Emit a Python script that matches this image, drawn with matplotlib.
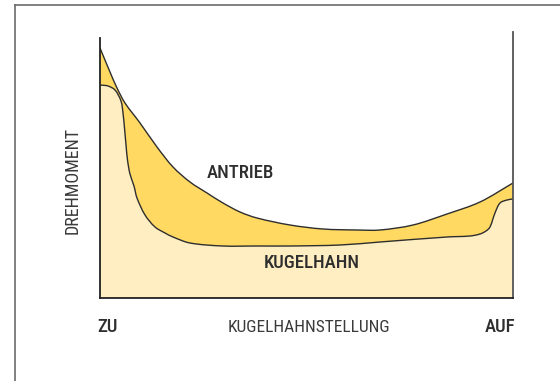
import matplotlib
matplotlib.use("Agg")
import matplotlib.pyplot as plt
from matplotlib.lines import Line2D
from matplotlib.path import Path
from matplotlib.patches import PathPatch

# Valve position (0 = ZU, 100 = AUF) and torque (arbitrary units)
antrieb_x = [0, 2.42, 4.12, 6.05, 9.69, 13.80, 17.68, 21.79, 25.91, 29.78,
             33.90, 38.01, 46.00, 54.00, 62.23, 67.80, 75.79, 84.02, 92.01, 100]
antrieb_y = [250, 226, 210, 195, 175, 151, 131, 116, 105, 95,
             86, 80, 73, 69, 68, 68, 73, 84, 96, 115]

kugel_x = [0, 1.94, 3.63, 5.08, 5.57, 5.93, 6.30, 6.66, 7.26, 8.23, 8.96,
           10.90, 13.32, 15.74, 17.68, 21.79, 29.78, 38.01, 46.00, 58.11,
           67.80, 84.02, 89.59, 92.01, 93.46, 94.43, 95.64, 96.85, 98.55, 100]
kugel_y = [213, 212, 208, 197, 185, 170, 153, 138, 124, 112, 100,
           83, 71, 65, 61, 55, 52, 52, 52, 53,
           56, 61, 62, 64, 67, 71, 85, 95, 98, 99]

labels_x = ["ZU", "KUGELHAHNSTELLUNG", "AUF"]
label_y = "DREHMOMENT"
curve_labels = ["ANTRIEB", "KUGELHAHN"]

FONT = ["Roboto Condensed", "DejaVu Sans"]
DARK = "#FFD962"
LIGHT = "#FEEEC2"
INK = "#2e2e2e"

W, H = 560, 381
x0, x1, yb, yt = 100, 513, 298, 32
SX = (x1 - x0) / 100.0  # pixels per x unit (y unit = 1 pixel)


def smooth_path(xs, ys, close=False):
    """Smooth cubic Bezier path through the given points."""
    pts = list(zip(xs, ys))
    n = len(pts)

    def dist(a, b):
        return (((b[0] - a[0]) * SX) ** 2 + (b[1] - a[1]) ** 2) ** 0.5

    d = [dist(pts[i], pts[i + 1]) for i in range(n - 1)]
    tang = []
    for i in range(n):
        a = pts[max(i - 1, 0)]
        b = pts[min(i + 1, n - 1)]
        tang.append((b[0] - a[0], b[1] - a[1]))
    verts = [pts[0]]
    codes = [Path.MOVETO]
    for i in range(n - 1):
        dl = d[i - 1] if i > 0 else 0.0
        dr = d[i + 1] if i < n - 2 else 0.0
        k1 = d[i] / (dl + d[i]) / 3.0 if i > 0 else 1 / 3.0
        k2 = d[i] / (d[i] + dr) / 3.0 if i < n - 2 else 1 / 3.0
        p, q = pts[i], pts[i + 1]
        c1 = (p[0] + tang[i][0] * k1, p[1] + tang[i][1] * k1)
        c2 = (q[0] - tang[i + 1][0] * k2, q[1] - tang[i + 1][1] * k2)
        verts += [c1, c2, q]
        codes += [Path.CURVE4] * 3
    if close:
        verts += [(xs[-1], 0), (xs[0], 0), pts[0]]
        codes += [Path.LINETO, Path.LINETO, Path.CLOSEPOLY]
    return Path(verts, codes)


fig = plt.figure(figsize=(W / 100, H / 100), dpi=100)
fig.patch.set_facecolor("white")

# Outer frame (left and top edges)
fig.add_artist(Line2D([15 / W, 15 / W], [0, 1 - 5 / H], color="#6b6b6b", lw=1.2))
fig.add_artist(Line2D([15 / W, 1], [1 - 5 / H, 1 - 5 / H], color="#6b6b6b", lw=1.2))

ax = fig.add_axes([x0 / W, (H - yb) / H, (x1 - x0) / W, (yb - yt) / H])
ax.set_xlim(0, 100)
ax.set_ylim(0, yb - yt)
ax.set_facecolor("none")

ax.add_patch(PathPatch(smooth_path(antrieb_x, antrieb_y, close=True),
                       facecolor=DARK, edgecolor="none"))
ax.add_patch(PathPatch(smooth_path(kugel_x, kugel_y, close=True),
                       facecolor=LIGHT, edgecolor="none"))
ax.add_patch(PathPatch(smooth_path(antrieb_x, antrieb_y), facecolor="none",
                       edgecolor=INK, lw=1.0))
ax.add_patch(PathPatch(smooth_path(kugel_x, kugel_y), facecolor="none",
                       edgecolor=INK, lw=1.0))

ax.spines["top"].set_visible(False)
ax.spines["left"].set_bounds(0, 260)
ax.spines["left"].set_color("#222222")
ax.spines["left"].set_linewidth(1.3)
ax.spines["right"].set_color("#555555")
ax.spines["right"].set_linewidth(1.3)
ax.spines["bottom"].set_color("#222222")
ax.spines["bottom"].set_linewidth(1.3)
ax.set_xticks([])
ax.set_yticks([])


def px(x, y, s, **kw):
    fig.text(x / W, 1 - y / H, s, family=FONT, ha="center", va="center", **kw)


px(107, 327, labels_x[0], fontsize=13.5, weight="medium", color=INK)
px(309, 327, labels_x[1], fontsize=12.5, color="#3a3a3a")
px(500, 327, labels_x[2], fontsize=13.5, weight="medium", color=INK)
px(73, 180, label_y, fontsize=13, rotation=90, color="#3a3a3a")
px(240, 173, curve_labels[0], fontsize=13.5, weight="medium", color=INK)
px(312, 263, curve_labels[1], fontsize=13.5, weight="medium", color=INK)

fig.savefig("out.png", dpi=100)
